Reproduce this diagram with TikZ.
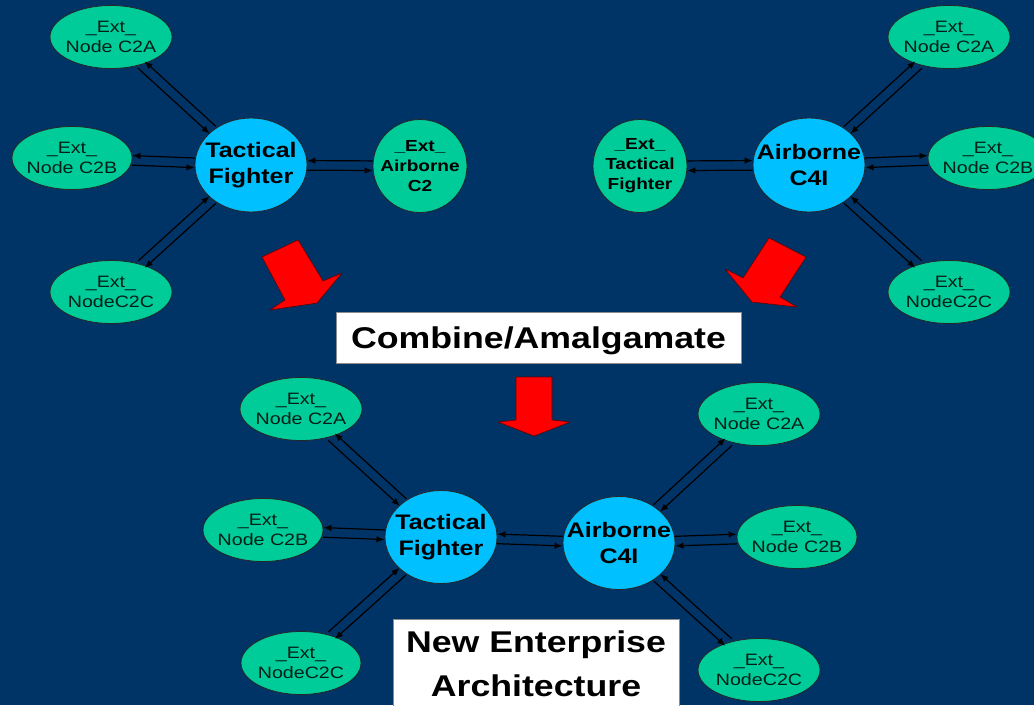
\documentclass[tikz,border=0pt]{standalone}
\usepackage{fontspec}
\setmainfont{Liberation Sans}[FakeStretch=1.19]
\usetikzlibrary{shapes.geometric,arrows.meta,calc}
\definecolor{bgblue}{RGB}{0,51,102}
\definecolor{extgreen}{RGB}{0,204,153}
\definecolor{corecyan}{RGB}{0,192,255}
\definecolor{blockred}{RGB}{255,0,0}
\tikzset{
  extnode/.style={ellipse, draw=black!85, line width=0.8pt, fill=extgreen, inner sep=0pt, minimum width=122pt, minimum height=63pt},
  extround/.style={extnode, minimum width=94pt, minimum height=93pt},
  corenode/.style={ellipse, draw=black!85, line width=0.8pt, fill=corecyan, inner sep=0pt, minimum width=112pt, minimum height=94pt},
  exttext/.style={align=center, font=\fontsize{16.5}{20}\selectfont, text=black!85!extgreen},
  extbold/.style={align=center, font=\fontsize{16}{20}\selectfont\bfseries, text=black},
  coretext/.style={align=center, font=\fontsize{21}{26}\selectfont\bfseries, text=black},
  conn/.style={line width=1.2pt, draw=black, -{Latex[length=8pt,width=6.5pt]}},
  blockarrow/.style={fill=blockred, draw=black!60!red, line width=0.6pt, line join=round},
  whitebox/.style={rectangle, fill=white, draw=black!45, line width=0.8pt, font=\fontsize{30}{44}\selectfont\bfseries, align=center},
}
\newcommand\biarr[3]{%
  \pgfmathanglebetweenpoints{\pgfpointanchor{#1}{center}}{\pgfpointanchor{#2}{center}}%
  \edef\connang{\pgfmathresult}%
  \draw[conn, transform canvas={shift={({\connang+(#3)*90}:4.8pt)}}] (#1) -- (#2);
  \draw[conn, transform canvas={shift={({\connang-(#3)*90}:4.8pt)}}] (#2) -- (#1);
}
\begin{document}
\begin{tikzpicture}[x=1pt,y=-1pt]
\useasboundingbox (0,0) rectangle (1034,705);
\clip (0,0) rectangle (1034,705);
\fill[bgblue] (0,0) rectangle (1034,705);

% ---------- top-left cluster ----------
\node[extnode, label={[exttext]center:{\_Ext\_\\Node C2A}}] (tlA) at (111,37) {};
\node[extnode, minimum width=120pt, label={[exttext]center:{\_Ext\_\\Node C2B}}] (tlB) at (72,158) {};
\node[extnode, label={[exttext]center:{\_Ext\_\\NodeC2C}}] (tlC) at (111,292) {};
\node[corenode, label={[coretext]center:{Tactical\\Fighter}}] (tlTF) at (251,165) {};
\node[extround, label={[extbold]center:{\_Ext\_\\Airborne\\C2}}] (tlAC) at (420,166) {};

% ---------- top-right cluster ----------
\node[extround, label={[extbold]center:{\_Ext\_\\Tactical\\Fighter}}] (trTF) at (640,166) {};
\node[corenode, label={[coretext]center:{Airborne\\C4I}}] (trAC) at (809,165) {};
\node[extnode, label={[exttext]center:{\_Ext\_\\Node C2A}}] (trA) at (949,37) {};
\node[extnode, minimum width=120pt, label={[exttext]center:{\_Ext\_\\Node C2B}}] (trB) at (988,158) {};
\node[extnode, label={[exttext]center:{\_Ext\_\\NodeC2C}}] (trC) at (949,292) {};

% ---------- bottom cluster ----------
\node[extnode, label={[exttext]center:{\_Ext\_\\Node C2A}}] (bA) at (301,409) {};
\node[extnode, minimum width=120pt, label={[exttext]center:{\_Ext\_\\Node C2B}}] (bB) at (263,530) {};
\node[extnode, minimum width=120pt, label={[exttext]center:{\_Ext\_\\NodeC2C}}] (bC) at (301,663) {};
\node[corenode, minimum height=93pt, label={[coretext]center:{Tactical\\Fighter}}] (bTF) at (441,537) {};
\node[corenode, minimum height=93pt, label={[coretext]center:{Airborne\\C4I}}] (bAC) at (619,543) {};
\node[extnode, label={[exttext]center:{\_Ext\_\\Node C2A}}] (bA2) at (759,414) {};
\node[extnode, minimum width=120pt, label={[exttext]center:{\_Ext\_\\Node C2B}}] (bB2) at (797,537) {};
\node[extnode, label={[exttext]center:{\_Ext\_\\NodeC2C}}] (bC2) at (759,670) {};

% ---------- connectors ----------
\biarr{tlA}{tlTF}{-1}
\biarr{tlB}{tlTF}{-1}
\biarr{tlC}{tlTF}{1}
\biarr{tlAC}{tlTF}{-1}

\biarr{trTF}{trAC}{1}
\biarr{trAC}{trA}{1}
\biarr{trAC}{trB}{1}
\biarr{trAC}{trC}{-1}

\biarr{bA}{bTF}{-1}
\biarr{bB}{bTF}{-1}
\biarr{bC}{bTF}{1}
\biarr{bAC}{bTF}{-1}
\biarr{bAC}{bA2}{1}
\biarr{bAC}{bB2}{1}
\biarr{bAC}{bC2}{-1}

% ---------- block arrows ----------
\draw[blockarrow] (262,257) -- (298,240) -- (323,281) -- (342,273) -- (317,303) -- (270,310) -- (285,300) -- cycle;
\draw[blockarrow] (769,238) -- (806,257) -- (780,297) -- (797,307) -- (752,302) -- (725,269) -- (743,278) -- cycle;
\draw[blockarrow] (516,377) -- (552,377) -- (552,420) -- (570,422) -- (534,436) -- (498,422) -- (516,420) -- cycle;

% ---------- text boxes ----------
\node[whitebox, minimum width=405pt, minimum height=51pt, text depth=0pt] (combine) at (538.5,337.5) {Combine/Amalgamate};
\node[whitebox, anchor=north, minimum width=286pt, inner ysep=11.5pt] (newea) at (536,619) {New Enterprise\\Architecture};
\end{tikzpicture}
\end{document}
